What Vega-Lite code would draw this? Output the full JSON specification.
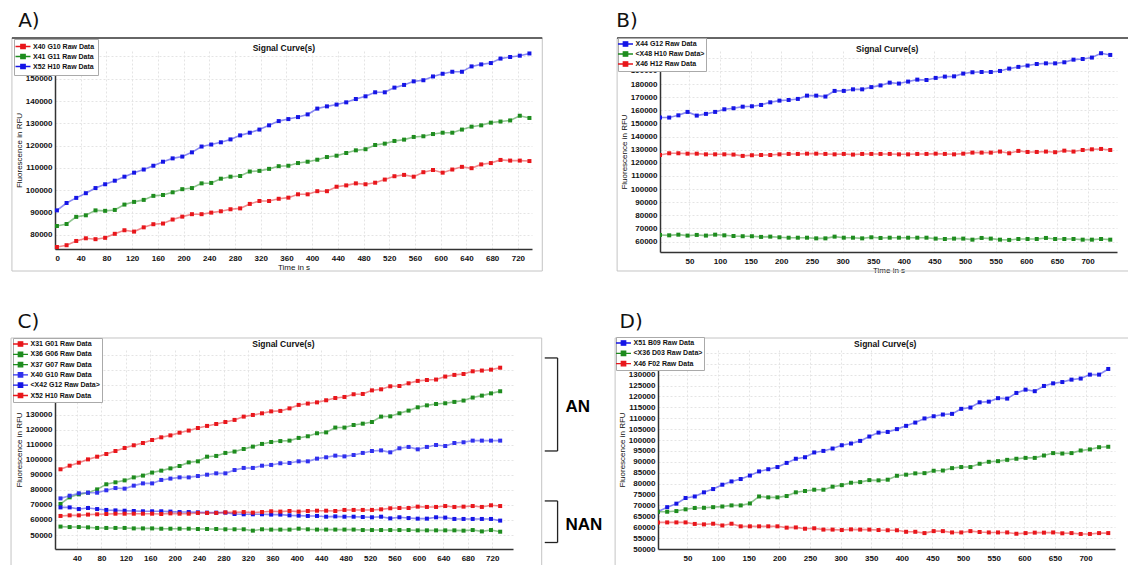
{
"$schema": "https://vega.github.io/schema/vega-lite/v6.json",
"background": "white",
"padding": {"left": 10, "top": 11, "right": 0, "bottom": 0},
"config": {
 "font": "Liberation Sans",
 "view": {"stroke": null},
 "axis": {"labelFont": "Liberation Sans", "labelFontSize": 8, "labelFontWeight": "bold", "labelColor": "#111", "labelOverlap": false, "titleFont": "Liberation Sans", "titleFontSize": 8, "titleFontWeight": "normal", "titleColor": "#111", "gridColor": "#e4e4e4", "gridDash": [2, 2], "domainColor": "#333", "domainWidth": 1.5, "ticks": false, "labelPadding": 3},
 "axisY": {"titlePadding": 2},
 "axisX": {"titlePadding": 1, "labelPadding": 5},
 "legend": {"orient": "none", "title": null, "labelFont": "Liberation Sans", "labelFontSize": 7, "labelFontWeight": "bold", "labelColor": "#111", "padding": 3, "rowPadding": -2.2, "labelOffset": 5.5, "symbolOffset": 1.5, "strokeColor": "#aaa", "fillColor": "white", "symbolType": "M-2.14,0H2.14M-0.63,-0.63H0.63V0.63H-0.63Z", "symbolSize": 49, "symbolStrokeWidth": 1.3, "symbolOpacity": 1}
},
"resolve": {"scale": {"color": "independent", "x": "independent", "y": "independent"}, "legend": {"color": "independent"}, "axis": {"x": "independent", "y": "independent"}},
"datasets": {
 "A": [
{"s":"X40 G10","t":3,"v":74600},{"s":"X40 G10","t":18,"v":75400},{"s":"X40 G10","t":33,"v":77300},{"s":"X40 G10","t":48,"v":78500},{"s":"X40 G10","t":63,"v":78100},{"s":"X40 G10","t":78,"v":78700},{"s":"X40 G10","t":93,"v":80500},{"s":"X40 G10","t":108,"v":82100},{"s":"X40 G10","t":123,"v":81500},{"s":"X40 G10","t":138,"v":83400},
{"s":"X40 G10","t":153,"v":84800},{"s":"X40 G10","t":168,"v":85100},{"s":"X40 G10","t":183,"v":86900},{"s":"X40 G10","t":198,"v":88200},{"s":"X40 G10","t":213,"v":89300},{"s":"X40 G10","t":228,"v":89300},{"s":"X40 G10","t":243,"v":90000},{"s":"X40 G10","t":258,"v":90600},{"s":"X40 G10","t":273,"v":91500},{"s":"X40 G10","t":288,"v":91900},
{"s":"X40 G10","t":303,"v":93900},{"s":"X40 G10","t":318,"v":95200},{"s":"X40 G10","t":333,"v":95200},{"s":"X40 G10","t":348,"v":96200},{"s":"X40 G10","t":363,"v":96700},{"s":"X40 G10","t":378,"v":98200},{"s":"X40 G10","t":393,"v":98200},{"s":"X40 G10","t":408,"v":99600},{"s":"X40 G10","t":423,"v":99600},{"s":"X40 G10","t":438,"v":101600},
{"s":"X40 G10","t":453,"v":102200},{"s":"X40 G10","t":468,"v":103100},{"s":"X40 G10","t":483,"v":102700},{"s":"X40 G10","t":498,"v":103400},{"s":"X40 G10","t":513,"v":104800},{"s":"X40 G10","t":528,"v":106300},{"s":"X40 G10","t":543,"v":106900},{"s":"X40 G10","t":558,"v":106100},{"s":"X40 G10","t":573,"v":108100},{"s":"X40 G10","t":588,"v":109100},
{"s":"X40 G10","t":603,"v":107900},{"s":"X40 G10","t":618,"v":109300},{"s":"X40 G10","t":633,"v":110500},{"s":"X40 G10","t":648,"v":109900},{"s":"X40 G10","t":663,"v":111600},{"s":"X40 G10","t":678,"v":112200},{"s":"X40 G10","t":693,"v":113600},{"s":"X40 G10","t":708,"v":113300},{"s":"X40 G10","t":723,"v":113300},{"s":"X40 G10","t":738,"v":113100},
{"s":"X41 G11","t":3,"v":84000},{"s":"X41 G11","t":18,"v":84900},{"s":"X41 G11","t":33,"v":88100},{"s":"X41 G11","t":48,"v":88800},{"s":"X41 G11","t":63,"v":91000},{"s":"X41 G11","t":78,"v":90800},{"s":"X41 G11","t":93,"v":91200},{"s":"X41 G11","t":108,"v":93600},{"s":"X41 G11","t":123,"v":94800},{"s":"X41 G11","t":138,"v":95700},
{"s":"X41 G11","t":153,"v":97500},{"s":"X41 G11","t":168,"v":97900},{"s":"X41 G11","t":183,"v":99100},{"s":"X41 G11","t":198,"v":100500},{"s":"X41 G11","t":213,"v":101000},{"s":"X41 G11","t":228,"v":103100},{"s":"X41 G11","t":243,"v":103300},{"s":"X41 G11","t":258,"v":105200},{"s":"X41 G11","t":273,"v":106100},{"s":"X41 G11","t":288,"v":106400},
{"s":"X41 G11","t":303,"v":108400},{"s":"X41 G11","t":318,"v":108700},{"s":"X41 G11","t":333,"v":109600},{"s":"X41 G11","t":348,"v":110800},{"s":"X41 G11","t":363,"v":111000},{"s":"X41 G11","t":378,"v":112200},{"s":"X41 G11","t":393,"v":112800},{"s":"X41 G11","t":408,"v":113700},{"s":"X41 G11","t":423,"v":114900},{"s":"X41 G11","t":438,"v":115500},
{"s":"X41 G11","t":453,"v":116700},{"s":"X41 G11","t":468,"v":117900},{"s":"X41 G11","t":483,"v":118400},{"s":"X41 G11","t":498,"v":120300},{"s":"X41 G11","t":513,"v":120900},{"s":"X41 G11","t":528,"v":122100},{"s":"X41 G11","t":543,"v":122700},{"s":"X41 G11","t":558,"v":123900},{"s":"X41 G11","t":573,"v":124200},{"s":"X41 G11","t":588,"v":125200},
{"s":"X41 G11","t":603,"v":125800},{"s":"X41 G11","t":618,"v":125800},{"s":"X41 G11","t":633,"v":127200},{"s":"X41 G11","t":648,"v":128500},{"s":"X41 G11","t":663,"v":129100},{"s":"X41 G11","t":678,"v":130300},{"s":"X41 G11","t":693,"v":130800},{"s":"X41 G11","t":708,"v":131300},{"s":"X41 G11","t":723,"v":133400},{"s":"X41 G11","t":738,"v":132400},
{"s":"X52 H10","t":3,"v":91000},{"s":"X52 H10","t":18,"v":94300},{"s":"X52 H10","t":33,"v":96600},{"s":"X52 H10","t":48,"v":98700},{"s":"X52 H10","t":63,"v":101000},{"s":"X52 H10","t":78,"v":102700},{"s":"X52 H10","t":93,"v":104300},{"s":"X52 H10","t":108,"v":106100},{"s":"X52 H10","t":123,"v":107900},{"s":"X52 H10","t":138,"v":109300},
{"s":"X52 H10","t":153,"v":111000},{"s":"X52 H10","t":168,"v":112800},{"s":"X52 H10","t":183,"v":114300},{"s":"X52 H10","t":198,"v":115100},{"s":"X52 H10","t":213,"v":117000},{"s":"X52 H10","t":228,"v":119600},{"s":"X52 H10","t":243,"v":120500},{"s":"X52 H10","t":258,"v":121500},{"s":"X52 H10","t":273,"v":122800},{"s":"X52 H10","t":288,"v":124600},
{"s":"X52 H10","t":303,"v":125800},{"s":"X52 H10","t":318,"v":127200},{"s":"X52 H10","t":333,"v":129100},{"s":"X52 H10","t":348,"v":131000},{"s":"X52 H10","t":363,"v":131900},{"s":"X52 H10","t":378,"v":132800},{"s":"X52 H10","t":393,"v":134000},{"s":"X52 H10","t":408,"v":136600},{"s":"X52 H10","t":423,"v":137600},{"s":"X52 H10","t":438,"v":138400},
{"s":"X52 H10","t":453,"v":139400},{"s":"X52 H10","t":468,"v":140900},{"s":"X52 H10","t":483,"v":142100},{"s":"X52 H10","t":498,"v":143900},{"s":"X52 H10","t":513,"v":143900},{"s":"X52 H10","t":528,"v":146000},{"s":"X52 H10","t":543,"v":147200},{"s":"X52 H10","t":558,"v":148800},{"s":"X52 H10","t":573,"v":149300},{"s":"X52 H10","t":588,"v":151000},
{"s":"X52 H10","t":603,"v":152200},{"s":"X52 H10","t":618,"v":153100},{"s":"X52 H10","t":633,"v":153100},{"s":"X52 H10","t":648,"v":155500},{"s":"X52 H10","t":663,"v":156400},{"s":"X52 H10","t":678,"v":157000},{"s":"X52 H10","t":693,"v":159000},{"s":"X52 H10","t":708,"v":159700},{"s":"X52 H10","t":723,"v":160300},{"s":"X52 H10","t":738,"v":161300}
 ],
 "B": [
{"s":"X44 G12","t":2,"v":154500},{"s":"X44 G12","t":17,"v":154500},{"s":"X44 G12","t":32,"v":156200},{"s":"X44 G12","t":47,"v":158800},{"s":"X44 G12","t":62,"v":156000},{"s":"X44 G12","t":77,"v":157300},{"s":"X44 G12","t":92,"v":158800},{"s":"X44 G12","t":107,"v":160800},{"s":"X44 G12","t":122,"v":161600},{"s":"X44 G12","t":137,"v":162800},
{"s":"X44 G12","t":152,"v":163100},{"s":"X44 G12","t":167,"v":164100},{"s":"X44 G12","t":182,"v":166100},{"s":"X44 G12","t":197,"v":167400},{"s":"X44 G12","t":212,"v":167900},{"s":"X44 G12","t":227,"v":168700},{"s":"X44 G12","t":242,"v":171200},{"s":"X44 G12","t":257,"v":171200},{"s":"X44 G12","t":272,"v":170500},{"s":"X44 G12","t":287,"v":174800},
{"s":"X44 G12","t":302,"v":174800},{"s":"X44 G12","t":317,"v":176000},{"s":"X44 G12","t":332,"v":176000},{"s":"X44 G12","t":347,"v":177700},{"s":"X44 G12","t":362,"v":179000},{"s":"X44 G12","t":377,"v":181100},{"s":"X44 G12","t":392,"v":180400},{"s":"X44 G12","t":407,"v":181900},{"s":"X44 G12","t":422,"v":183400},{"s":"X44 G12","t":437,"v":183100},
{"s":"X44 G12","t":452,"v":184700},{"s":"X44 G12","t":467,"v":185700},{"s":"X44 G12","t":482,"v":185900},{"s":"X44 G12","t":497,"v":188000},{"s":"X44 G12","t":512,"v":189000},{"s":"X44 G12","t":527,"v":189200},{"s":"X44 G12","t":542,"v":189200},{"s":"X44 G12","t":557,"v":190000},{"s":"X44 G12","t":572,"v":191800},{"s":"X44 G12","t":587,"v":193100},
{"s":"X44 G12","t":602,"v":194100},{"s":"X44 G12","t":617,"v":195300},{"s":"X44 G12","t":632,"v":195800},{"s":"X44 G12","t":647,"v":195800},{"s":"X44 G12","t":662,"v":196600},{"s":"X44 G12","t":677,"v":198600},{"s":"X44 G12","t":692,"v":199100},{"s":"X44 G12","t":707,"v":200200},{"s":"X44 G12","t":722,"v":203500},{"s":"X44 G12","t":737,"v":202200},
{"s":"<X48 H10","t":2,"v":65100},{"s":"<X48 H10","t":17,"v":64800},{"s":"<X48 H10","t":32,"v":65300},{"s":"<X48 H10","t":47,"v":64600},{"s":"<X48 H10","t":62,"v":65100},{"s":"<X48 H10","t":77,"v":64600},{"s":"<X48 H10","t":92,"v":65300},{"s":"<X48 H10","t":107,"v":64800},{"s":"<X48 H10","t":122,"v":64300},{"s":"<X48 H10","t":137,"v":64100},
{"s":"<X48 H10","t":152,"v":64100},{"s":"<X48 H10","t":167,"v":63600},{"s":"<X48 H10","t":182,"v":63800},{"s":"<X48 H10","t":197,"v":63300},{"s":"<X48 H10","t":212,"v":63000},{"s":"<X48 H10","t":227,"v":63000},{"s":"<X48 H10","t":242,"v":63000},{"s":"<X48 H10","t":257,"v":62500},{"s":"<X48 H10","t":272,"v":62500},{"s":"<X48 H10","t":287,"v":63800},
{"s":"<X48 H10","t":302,"v":63000},{"s":"<X48 H10","t":317,"v":63000},{"s":"<X48 H10","t":332,"v":62500},{"s":"<X48 H10","t":347,"v":63300},{"s":"<X48 H10","t":362,"v":62800},{"s":"<X48 H10","t":377,"v":63000},{"s":"<X48 H10","t":392,"v":63000},{"s":"<X48 H10","t":407,"v":63000},{"s":"<X48 H10","t":422,"v":63000},{"s":"<X48 H10","t":437,"v":63000},
{"s":"<X48 H10","t":452,"v":62300},{"s":"<X48 H10","t":467,"v":62000},{"s":"<X48 H10","t":482,"v":62300},{"s":"<X48 H10","t":497,"v":62300},{"s":"<X48 H10","t":512,"v":61500},{"s":"<X48 H10","t":527,"v":62800},{"s":"<X48 H10","t":542,"v":62300},{"s":"<X48 H10","t":557,"v":61500},{"s":"<X48 H10","t":572,"v":61300},{"s":"<X48 H10","t":587,"v":62000},
{"s":"<X48 H10","t":602,"v":62000},{"s":"<X48 H10","t":617,"v":62000},{"s":"<X48 H10","t":632,"v":62800},{"s":"<X48 H10","t":647,"v":62000},{"s":"<X48 H10","t":662,"v":62000},{"s":"<X48 H10","t":677,"v":62000},{"s":"<X48 H10","t":692,"v":61500},{"s":"<X48 H10","t":707,"v":61500},{"s":"<X48 H10","t":722,"v":62000},{"s":"<X48 H10","t":737,"v":61500},
{"s":"X46 H12","t":2,"v":126000},{"s":"X46 H12","t":17,"v":127300},{"s":"X46 H12","t":32,"v":127300},{"s":"X46 H12","t":47,"v":127000},{"s":"X46 H12","t":62,"v":127000},{"s":"X46 H12","t":77,"v":126500},{"s":"X46 H12","t":92,"v":126500},{"s":"X46 H12","t":107,"v":126500},{"s":"X46 H12","t":122,"v":126300},{"s":"X46 H12","t":137,"v":125300},
{"s":"X46 H12","t":152,"v":125800},{"s":"X46 H12","t":167,"v":126000},{"s":"X46 H12","t":182,"v":126000},{"s":"X46 H12","t":197,"v":126500},{"s":"X46 H12","t":212,"v":126800},{"s":"X46 H12","t":227,"v":126800},{"s":"X46 H12","t":242,"v":127000},{"s":"X46 H12","t":257,"v":127000},{"s":"X46 H12","t":272,"v":126800},{"s":"X46 H12","t":287,"v":126500},
{"s":"X46 H12","t":302,"v":126800},{"s":"X46 H12","t":317,"v":126300},{"s":"X46 H12","t":332,"v":126800},{"s":"X46 H12","t":347,"v":126800},{"s":"X46 H12","t":362,"v":126800},{"s":"X46 H12","t":377,"v":126800},{"s":"X46 H12","t":392,"v":126500},{"s":"X46 H12","t":407,"v":126500},{"s":"X46 H12","t":422,"v":126800},{"s":"X46 H12","t":437,"v":126800},
{"s":"X46 H12","t":452,"v":127000},{"s":"X46 H12","t":467,"v":126800},{"s":"X46 H12","t":482,"v":126500},{"s":"X46 H12","t":497,"v":127000},{"s":"X46 H12","t":512,"v":127800},{"s":"X46 H12","t":527,"v":127800},{"s":"X46 H12","t":542,"v":127800},{"s":"X46 H12","t":557,"v":128600},{"s":"X46 H12","t":572,"v":127300},{"s":"X46 H12","t":587,"v":129100},
{"s":"X46 H12","t":602,"v":128300},{"s":"X46 H12","t":617,"v":128300},{"s":"X46 H12","t":632,"v":128600},{"s":"X46 H12","t":647,"v":128100},{"s":"X46 H12","t":662,"v":129300},{"s":"X46 H12","t":677,"v":128600},{"s":"X46 H12","t":692,"v":129800},{"s":"X46 H12","t":707,"v":130300},{"s":"X46 H12","t":722,"v":130600},{"s":"X46 H12","t":737,"v":129800}
 ],
 "C": [
{"s":"X52 H10","t":13,"v":93800},{"s":"X52 H10","t":28,"v":96200},{"s":"X52 H10","t":43,"v":98200},{"s":"X52 H10","t":58,"v":100400},{"s":"X52 H10","t":73,"v":102200},{"s":"X52 H10","t":88,"v":104000},{"s":"X52 H10","t":103,"v":106000},{"s":"X52 H10","t":118,"v":108000},{"s":"X52 H10","t":133,"v":109800},{"s":"X52 H10","t":148,"v":111300},
{"s":"X52 H10","t":163,"v":113300},{"s":"X52 H10","t":178,"v":115100},{"s":"X52 H10","t":193,"v":116400},{"s":"X52 H10","t":208,"v":118200},{"s":"X52 H10","t":223,"v":119600},{"s":"X52 H10","t":238,"v":121300},{"s":"X52 H10","t":253,"v":122700},{"s":"X52 H10","t":268,"v":124000},{"s":"X52 H10","t":283,"v":125300},{"s":"X52 H10","t":298,"v":126700},
{"s":"X52 H10","t":313,"v":128900},{"s":"X52 H10","t":328,"v":130000},{"s":"X52 H10","t":343,"v":131100},{"s":"X52 H10","t":358,"v":132400},{"s":"X52 H10","t":373,"v":132700},{"s":"X52 H10","t":388,"v":134400},{"s":"X52 H10","t":403,"v":136700},{"s":"X52 H10","t":418,"v":137600},{"s":"X52 H10","t":433,"v":138400},{"s":"X52 H10","t":448,"v":139800},
{"s":"X52 H10","t":463,"v":141300},{"s":"X52 H10","t":478,"v":142000},{"s":"X52 H10","t":493,"v":143800},{"s":"X52 H10","t":508,"v":144000},{"s":"X52 H10","t":523,"v":146400},{"s":"X52 H10","t":538,"v":147100},{"s":"X52 H10","t":553,"v":149100},{"s":"X52 H10","t":568,"v":149300},{"s":"X52 H10","t":583,"v":151100},{"s":"X52 H10","t":598,"v":152700},
{"s":"X52 H10","t":613,"v":153300},{"s":"X52 H10","t":628,"v":153600},{"s":"X52 H10","t":643,"v":155600},{"s":"X52 H10","t":658,"v":156700},{"s":"X52 H10","t":673,"v":157300},{"s":"X52 H10","t":688,"v":159100},{"s":"X52 H10","t":703,"v":159600},{"s":"X52 H10","t":718,"v":160200},{"s":"X52 H10","t":733,"v":161500},
{"s":"X36 G06","t":13,"v":70700},{"s":"X36 G06","t":28,"v":75100},{"s":"X36 G06","t":43,"v":77100},{"s":"X36 G06","t":58,"v":78200},{"s":"X36 G06","t":73,"v":80400},{"s":"X36 G06","t":88,"v":83800},{"s":"X36 G06","t":103,"v":85100},{"s":"X36 G06","t":118,"v":86400},{"s":"X36 G06","t":133,"v":88400},{"s":"X36 G06","t":148,"v":89600},
{"s":"X36 G06","t":163,"v":91600},{"s":"X36 G06","t":178,"v":92900},{"s":"X36 G06","t":193,"v":94400},{"s":"X36 G06","t":208,"v":96000},{"s":"X36 G06","t":223,"v":98400},{"s":"X36 G06","t":238,"v":99100},{"s":"X36 G06","t":253,"v":102200},{"s":"X36 G06","t":268,"v":102700},{"s":"X36 G06","t":283,"v":104700},{"s":"X36 G06","t":298,"v":105600},
{"s":"X36 G06","t":313,"v":107300},{"s":"X36 G06","t":328,"v":108900},{"s":"X36 G06","t":343,"v":110700},{"s":"X36 G06","t":358,"v":112000},{"s":"X36 G06","t":373,"v":112600},{"s":"X36 G06","t":388,"v":112900},{"s":"X36 G06","t":403,"v":114700},{"s":"X36 G06","t":418,"v":115800},{"s":"X36 G06","t":433,"v":117800},{"s":"X36 G06","t":448,"v":118400},
{"s":"X36 G06","t":463,"v":121600},{"s":"X36 G06","t":478,"v":121600},{"s":"X36 G06","t":493,"v":123300},{"s":"X36 G06","t":508,"v":124200},{"s":"X36 G06","t":523,"v":125300},{"s":"X36 G06","t":538,"v":128900},{"s":"X36 G06","t":553,"v":129100},{"s":"X36 G06","t":568,"v":131100},{"s":"X36 G06","t":583,"v":132900},{"s":"X36 G06","t":598,"v":135100},
{"s":"X36 G06","t":613,"v":136400},{"s":"X36 G06","t":628,"v":137300},{"s":"X36 G06","t":643,"v":137800},{"s":"X36 G06","t":658,"v":138700},{"s":"X36 G06","t":673,"v":139600},{"s":"X36 G06","t":688,"v":141600},{"s":"X36 G06","t":703,"v":142900},{"s":"X36 G06","t":718,"v":144400},{"s":"X36 G06","t":733,"v":145800},
{"s":"X40 G10","t":13,"v":74400},{"s":"X40 G10","t":28,"v":76200},{"s":"X40 G10","t":43,"v":77800},{"s":"X40 G10","t":58,"v":78200},{"s":"X40 G10","t":73,"v":78200},{"s":"X40 G10","t":88,"v":79800},{"s":"X40 G10","t":103,"v":81300},{"s":"X40 G10","t":118,"v":80900},{"s":"X40 G10","t":133,"v":82900},{"s":"X40 G10","t":148,"v":84400},
{"s":"X40 G10","t":163,"v":84400},{"s":"X40 G10","t":178,"v":86700},{"s":"X40 G10","t":193,"v":87600},{"s":"X40 G10","t":208,"v":88400},{"s":"X40 G10","t":223,"v":88400},{"s":"X40 G10","t":238,"v":89300},{"s":"X40 G10","t":253,"v":90200},{"s":"X40 G10","t":268,"v":91100},{"s":"X40 G10","t":283,"v":91100},{"s":"X40 G10","t":298,"v":93300},
{"s":"X40 G10","t":313,"v":94700},{"s":"X40 G10","t":328,"v":94700},{"s":"X40 G10","t":343,"v":96200},{"s":"X40 G10","t":358,"v":96700},{"s":"X40 G10","t":373,"v":97800},{"s":"X40 G10","t":388,"v":98000},{"s":"X40 G10","t":403,"v":99100},{"s":"X40 G10","t":418,"v":99100},{"s":"X40 G10","t":433,"v":100900},{"s":"X40 G10","t":448,"v":101800},
{"s":"X40 G10","t":463,"v":102900},{"s":"X40 G10","t":478,"v":102400},{"s":"X40 G10","t":493,"v":103300},{"s":"X40 G10","t":508,"v":104700},{"s":"X40 G10","t":523,"v":106000},{"s":"X40 G10","t":538,"v":106400},{"s":"X40 G10","t":553,"v":105100},{"s":"X40 G10","t":568,"v":107800},{"s":"X40 G10","t":583,"v":108700},{"s":"X40 G10","t":598,"v":107100},
{"s":"X40 G10","t":613,"v":108700},{"s":"X40 G10","t":628,"v":110000},{"s":"X40 G10","t":643,"v":109300},{"s":"X40 G10","t":658,"v":111300},{"s":"X40 G10","t":673,"v":111800},{"s":"X40 G10","t":688,"v":112900},{"s":"X40 G10","t":703,"v":112900},{"s":"X40 G10","t":718,"v":112900},{"s":"X40 G10","t":733,"v":112900},
{"s":"<X42 G12","t":13,"v":68400},{"s":"<X42 G12","t":28,"v":68400},{"s":"<X42 G12","t":43,"v":67300},{"s":"<X42 G12","t":58,"v":68000},{"s":"<X42 G12","t":73,"v":67300},{"s":"<X42 G12","t":88,"v":66700},{"s":"<X42 G12","t":103,"v":66400},{"s":"<X42 G12","t":118,"v":66200},{"s":"<X42 G12","t":133,"v":66000},{"s":"<X42 G12","t":148,"v":65800},
{"s":"<X42 G12","t":163,"v":65800},{"s":"<X42 G12","t":178,"v":65800},{"s":"<X42 G12","t":193,"v":65600},{"s":"<X42 G12","t":208,"v":65300},{"s":"<X42 G12","t":223,"v":65300},{"s":"<X42 G12","t":238,"v":65100},{"s":"<X42 G12","t":253,"v":64900},{"s":"<X42 G12","t":268,"v":64900},{"s":"<X42 G12","t":283,"v":64900},{"s":"<X42 G12","t":298,"v":64000},
{"s":"<X42 G12","t":313,"v":63800},{"s":"<X42 G12","t":328,"v":63800},{"s":"<X42 G12","t":343,"v":63800},{"s":"<X42 G12","t":358,"v":63600},{"s":"<X42 G12","t":373,"v":63600},{"s":"<X42 G12","t":388,"v":63100},{"s":"<X42 G12","t":403,"v":62900},{"s":"<X42 G12","t":418,"v":62700},{"s":"<X42 G12","t":433,"v":62700},{"s":"<X42 G12","t":448,"v":62200},
{"s":"<X42 G12","t":463,"v":62400},{"s":"<X42 G12","t":478,"v":62200},{"s":"<X42 G12","t":493,"v":62200},{"s":"<X42 G12","t":508,"v":62000},{"s":"<X42 G12","t":523,"v":61800},{"s":"<X42 G12","t":538,"v":62200},{"s":"<X42 G12","t":553,"v":61100},{"s":"<X42 G12","t":568,"v":61800},{"s":"<X42 G12","t":583,"v":61300},{"s":"<X42 G12","t":598,"v":60900},
{"s":"<X42 G12","t":613,"v":60900},{"s":"<X42 G12","t":628,"v":61800},{"s":"<X42 G12","t":643,"v":61600},{"s":"<X42 G12","t":658,"v":60700},{"s":"<X42 G12","t":673,"v":60700},{"s":"<X42 G12","t":688,"v":60700},{"s":"<X42 G12","t":703,"v":60700},{"s":"<X42 G12","t":718,"v":60700},{"s":"<X42 G12","t":733,"v":59600},
{"s":"X31 G01","t":13,"v":62700},{"s":"X31 G01","t":28,"v":63100},{"s":"X31 G01","t":43,"v":63100},{"s":"X31 G01","t":58,"v":63600},{"s":"X31 G01","t":73,"v":63800},{"s":"X31 G01","t":88,"v":64000},{"s":"X31 G01","t":103,"v":64200},{"s":"X31 G01","t":118,"v":64200},{"s":"X31 G01","t":133,"v":64200},{"s":"X31 G01","t":148,"v":64200},
{"s":"X31 G01","t":163,"v":64200},{"s":"X31 G01","t":178,"v":64000},{"s":"X31 G01","t":193,"v":64400},{"s":"X31 G01","t":208,"v":64200},{"s":"X31 G01","t":223,"v":64200},{"s":"X31 G01","t":238,"v":64700},{"s":"X31 G01","t":253,"v":64700},{"s":"X31 G01","t":268,"v":64700},{"s":"X31 G01","t":283,"v":65100},{"s":"X31 G01","t":298,"v":65100},
{"s":"X31 G01","t":313,"v":65300},{"s":"X31 G01","t":328,"v":64900},{"s":"X31 G01","t":343,"v":65300},{"s":"X31 G01","t":358,"v":65800},{"s":"X31 G01","t":373,"v":65600},{"s":"X31 G01","t":388,"v":66000},{"s":"X31 G01","t":403,"v":65600},{"s":"X31 G01","t":418,"v":66000},{"s":"X31 G01","t":433,"v":66200},{"s":"X31 G01","t":448,"v":66200},
{"s":"X31 G01","t":463,"v":66000},{"s":"X31 G01","t":478,"v":66700},{"s":"X31 G01","t":493,"v":66700},{"s":"X31 G01","t":508,"v":66700},{"s":"X31 G01","t":523,"v":66700},{"s":"X31 G01","t":538,"v":67100},{"s":"X31 G01","t":553,"v":67800},{"s":"X31 G01","t":568,"v":68000},{"s":"X31 G01","t":583,"v":68000},{"s":"X31 G01","t":598,"v":68900},
{"s":"X31 G01","t":613,"v":68700},{"s":"X31 G01","t":628,"v":68700},{"s":"X31 G01","t":643,"v":69300},{"s":"X31 G01","t":658,"v":68700},{"s":"X31 G01","t":673,"v":68900},{"s":"X31 G01","t":688,"v":69300},{"s":"X31 G01","t":703,"v":68700},{"s":"X31 G01","t":718,"v":69800},{"s":"X31 G01","t":733,"v":69300},
{"s":"X37 G07","t":13,"v":55600},{"s":"X37 G07","t":28,"v":55300},{"s":"X37 G07","t":43,"v":55300},{"s":"X37 G07","t":58,"v":55100},{"s":"X37 G07","t":73,"v":54700},{"s":"X37 G07","t":88,"v":54700},{"s":"X37 G07","t":103,"v":54700},{"s":"X37 G07","t":118,"v":54700},{"s":"X37 G07","t":133,"v":54400},{"s":"X37 G07","t":148,"v":54400},
{"s":"X37 G07","t":163,"v":54400},{"s":"X37 G07","t":178,"v":54200},{"s":"X37 G07","t":193,"v":54200},{"s":"X37 G07","t":208,"v":54200},{"s":"X37 G07","t":223,"v":54200},{"s":"X37 G07","t":238,"v":54000},{"s":"X37 G07","t":253,"v":54000},{"s":"X37 G07","t":268,"v":54000},{"s":"X37 G07","t":283,"v":53800},{"s":"X37 G07","t":298,"v":53800},
{"s":"X37 G07","t":313,"v":53800},{"s":"X37 G07","t":328,"v":52900},{"s":"X37 G07","t":343,"v":53800},{"s":"X37 G07","t":358,"v":53600},{"s":"X37 G07","t":373,"v":53600},{"s":"X37 G07","t":388,"v":53600},{"s":"X37 G07","t":403,"v":54200},{"s":"X37 G07","t":418,"v":53800},{"s":"X37 G07","t":433,"v":53600},{"s":"X37 G07","t":448,"v":53600},
{"s":"X37 G07","t":463,"v":53600},{"s":"X37 G07","t":478,"v":53600},{"s":"X37 G07","t":493,"v":53600},{"s":"X37 G07","t":508,"v":53300},{"s":"X37 G07","t":523,"v":53300},{"s":"X37 G07","t":538,"v":53300},{"s":"X37 G07","t":553,"v":53300},{"s":"X37 G07","t":568,"v":53300},{"s":"X37 G07","t":583,"v":53300},{"s":"X37 G07","t":598,"v":53100},
{"s":"X37 G07","t":613,"v":53100},{"s":"X37 G07","t":628,"v":53100},{"s":"X37 G07","t":643,"v":53100},{"s":"X37 G07","t":658,"v":53100},{"s":"X37 G07","t":673,"v":52900},{"s":"X37 G07","t":688,"v":53300},{"s":"X37 G07","t":703,"v":52400},{"s":"X37 G07","t":718,"v":53300},{"s":"X37 G07","t":733,"v":52200}
 ],
 "D": [
{"s":"X51 B09","t":2,"v":67100},{"s":"X51 B09","t":17,"v":69200},{"s":"X51 B09","t":32,"v":70800},{"s":"X51 B09","t":47,"v":73400},{"s":"X51 B09","t":62,"v":74100},{"s":"X51 B09","t":77,"v":76000},{"s":"X51 B09","t":92,"v":77500},{"s":"X51 B09","t":107,"v":79500},{"s":"X51 B09","t":122,"v":81000},{"s":"X51 B09","t":137,"v":82100},
{"s":"X51 B09","t":152,"v":83700},{"s":"X51 B09","t":167,"v":85600},{"s":"X51 B09","t":182,"v":86600},{"s":"X51 B09","t":197,"v":87600},{"s":"X51 B09","t":212,"v":89500},{"s":"X51 B09","t":227,"v":91400},{"s":"X51 B09","t":242,"v":92100},{"s":"X51 B09","t":257,"v":94300},{"s":"X51 B09","t":272,"v":95000},{"s":"X51 B09","t":287,"v":96100},
{"s":"X51 B09","t":302,"v":97600},{"s":"X51 B09","t":317,"v":98400},{"s":"X51 B09","t":332,"v":99600},{"s":"X51 B09","t":347,"v":101600},{"s":"X51 B09","t":362,"v":103400},{"s":"X51 B09","t":377,"v":103700},{"s":"X51 B09","t":392,"v":105000},{"s":"X51 B09","t":407,"v":106500},{"s":"X51 B09","t":422,"v":108000},{"s":"X51 B09","t":437,"v":109900},
{"s":"X51 B09","t":452,"v":110900},{"s":"X51 B09","t":467,"v":111700},{"s":"X51 B09","t":482,"v":112000},{"s":"X51 B09","t":497,"v":114300},{"s":"X51 B09","t":512,"v":114900},{"s":"X51 B09","t":527,"v":117300},{"s":"X51 B09","t":542,"v":117600},{"s":"X51 B09","t":557,"v":119200},{"s":"X51 B09","t":572,"v":119000},{"s":"X51 B09","t":587,"v":121600},
{"s":"X51 B09","t":602,"v":123100},{"s":"X51 B09","t":617,"v":122400},{"s":"X51 B09","t":632,"v":124800},{"s":"X51 B09","t":647,"v":126000},{"s":"X51 B09","t":662,"v":126600},{"s":"X51 B09","t":677,"v":127700},{"s":"X51 B09","t":692,"v":128200},{"s":"X51 B09","t":707,"v":130000},{"s":"X51 B09","t":722,"v":130000},{"s":"X51 B09","t":737,"v":132600},
{"s":"<X36 D03","t":2,"v":67100},{"s":"<X36 D03","t":17,"v":67100},{"s":"<X36 D03","t":32,"v":67400},{"s":"<X36 D03","t":47,"v":68200},{"s":"<X36 D03","t":62,"v":68800},{"s":"<X36 D03","t":77,"v":68900},{"s":"<X36 D03","t":92,"v":69200},{"s":"<X36 D03","t":107,"v":69500},{"s":"<X36 D03","t":122,"v":70000},{"s":"<X36 D03","t":137,"v":70000},
{"s":"<X36 D03","t":152,"v":70900},{"s":"<X36 D03","t":167,"v":74100},{"s":"<X36 D03","t":182,"v":73700},{"s":"<X36 D03","t":197,"v":73700},{"s":"<X36 D03","t":212,"v":74300},{"s":"<X36 D03","t":227,"v":76000},{"s":"<X36 D03","t":242,"v":76600},{"s":"<X36 D03","t":257,"v":77200},{"s":"<X36 D03","t":272,"v":77200},{"s":"<X36 D03","t":287,"v":78600},
{"s":"<X36 D03","t":302,"v":79300},{"s":"<X36 D03","t":317,"v":80400},{"s":"<X36 D03","t":332,"v":80700},{"s":"<X36 D03","t":347,"v":81600},{"s":"<X36 D03","t":362,"v":81500},{"s":"<X36 D03","t":377,"v":81800},{"s":"<X36 D03","t":392,"v":83600},{"s":"<X36 D03","t":407,"v":84100},{"s":"<X36 D03","t":422,"v":84700},{"s":"<X36 D03","t":437,"v":84800},
{"s":"<X36 D03","t":452,"v":85900},{"s":"<X36 D03","t":467,"v":86000},{"s":"<X36 D03","t":482,"v":87100},{"s":"<X36 D03","t":497,"v":87600},{"s":"<X36 D03","t":512,"v":87600},{"s":"<X36 D03","t":527,"v":89100},{"s":"<X36 D03","t":542,"v":90000},{"s":"<X36 D03","t":557,"v":90300},{"s":"<X36 D03","t":572,"v":90900},{"s":"<X36 D03","t":587,"v":91400},
{"s":"<X36 D03","t":602,"v":91800},{"s":"<X36 D03","t":617,"v":91800},{"s":"<X36 D03","t":632,"v":92900},{"s":"<X36 D03","t":647,"v":94000},{"s":"<X36 D03","t":662,"v":93800},{"s":"<X36 D03","t":677,"v":94000},{"s":"<X36 D03","t":692,"v":95200},{"s":"<X36 D03","t":707,"v":95700},{"s":"<X36 D03","t":722,"v":96700},{"s":"<X36 D03","t":737,"v":96900},
{"s":"X46 F02","t":2,"v":62200},{"s":"X46 F02","t":17,"v":62200},{"s":"X46 F02","t":32,"v":62200},{"s":"X46 F02","t":47,"v":62200},{"s":"X46 F02","t":62,"v":61500},{"s":"X46 F02","t":77,"v":61300},{"s":"X46 F02","t":92,"v":61600},{"s":"X46 F02","t":107,"v":60800},{"s":"X46 F02","t":122,"v":61600},{"s":"X46 F02","t":137,"v":60400},
{"s":"X46 F02","t":152,"v":60400},{"s":"X46 F02","t":167,"v":60400},{"s":"X46 F02","t":182,"v":60400},{"s":"X46 F02","t":197,"v":60400},{"s":"X46 F02","t":212,"v":59800},{"s":"X46 F02","t":227,"v":59900},{"s":"X46 F02","t":242,"v":59300},{"s":"X46 F02","t":257,"v":59500},{"s":"X46 F02","t":272,"v":58900},{"s":"X46 F02","t":287,"v":58900},
{"s":"X46 F02","t":302,"v":58700},{"s":"X46 F02","t":317,"v":59000},{"s":"X46 F02","t":332,"v":58900},{"s":"X46 F02","t":347,"v":58900},{"s":"X46 F02","t":362,"v":58700},{"s":"X46 F02","t":377,"v":58600},{"s":"X46 F02","t":392,"v":58600},{"s":"X46 F02","t":407,"v":57900},{"s":"X46 F02","t":422,"v":57900},{"s":"X46 F02","t":437,"v":57300},
{"s":"X46 F02","t":452,"v":58200},{"s":"X46 F02","t":467,"v":58200},{"s":"X46 F02","t":482,"v":57600},{"s":"X46 F02","t":497,"v":57600},{"s":"X46 F02","t":512,"v":58200},{"s":"X46 F02","t":527,"v":57800},{"s":"X46 F02","t":542,"v":57600},{"s":"X46 F02","t":557,"v":57600},{"s":"X46 F02","t":572,"v":57600},{"s":"X46 F02","t":587,"v":57000},
{"s":"X46 F02","t":602,"v":57300},{"s":"X46 F02","t":617,"v":57500},{"s":"X46 F02","t":632,"v":57500},{"s":"X46 F02","t":647,"v":57600},{"s":"X46 F02","t":662,"v":57200},{"s":"X46 F02","t":677,"v":57300},{"s":"X46 F02","t":692,"v":56900},{"s":"X46 F02","t":707,"v":56900},{"s":"X46 F02","t":722,"v":57300},{"s":"X46 F02","t":737,"v":57300}
 ],
 "brackets": [
  {"t":806,"t2":827,"v":168000,"v2":168000},{"t":806,"t2":827,"v":106000,"v2":106000},{"t":827,"t2":827,"v":168000,"v2":106000},
  {"t":806,"t2":827,"v":72700,"v2":72700},{"t":806,"t2":827,"v":45000,"v2":45000},{"t":827,"t2":827,"v":72700,"v2":45000}
 ],
 "labels": [{"t":860,"v":135000,"label":"AN"},{"t":870,"v":56700,"label":"NAN"}]
},
"spacing": 37,
"vconcat": [
 {"spacing": 72, "resolve": {"scale": {"color": "independent", "x": "independent", "y": "independent"}, "legend": {"color": "independent"}}, "hconcat": [
  {"title": {"text": "A)", "anchor": "start", "fontSize": 20, "fontWeight": "normal", "font": "DejaVu Sans", "color": "#111", "offset": 6, "dx": 7},
   "vconcat": [{
    "width": 477, "height": 198,
    "encoding": {
     "x": {"field": "t", "type": "quantitative", "scale": {"domain": [0, 742], "nice": false, "zero": false}, "axis": {"values": [0,40,80,120,160,200,240,280,320,360,400,440,480,520,560,600,640,680,720], "title": "Time in s"}},
     "y": {"field": "v", "type": "quantitative", "scale": {"domain": [73700, 162400], "nice": false, "zero": false}, "axis": {"values": [80000,90000,100000,110000,120000,130000,140000,150000,160000], "format": "d", "title": "Fluorescence in RFU"}}
    },
    "layer": [
     {"data": {"values": [{"t":-67,"t2":-67,"v":168200,"v2":63840},{"t":758,"t2":758,"v":168200,"v2":63840},{"t":-67,"t2":758,"v":63840,"v2":63840}]},
      "mark": {"type": "rule", "color": "#c4c4c4", "strokeWidth": 1}, "encoding": {"x2": {"field": "t2"}, "y2": {"field": "v2"}}},
     {"data": {"values": [{"t":-67,"t2":758,"v":168200,"v2":168200}]},
      "mark": {"type": "rule", "color": "#333", "strokeWidth": 1.5}, "encoding": {"x2": {"field": "t2"}, "y2": {"field": "v2"}}},
     {"data": {"values": [{"t":356,"v":163600,"label":"Signal Curve(s)"}]},
      "mark": {"type": "text", "fontSize": 8.5, "fontWeight": "bold", "font": "Liberation Sans", "color": "#111", "align": "center", "baseline": "middle"},
      "encoding": {"text": {"field": "label"}}},
     {"data": {"name": "A"},
      "encoding": {"color": {"field": "s", "type": "nominal", "scale": {"domain": ["X40 G10","X41 G11","X52 H10"], "range": ["#e8161b","#1e8c1e","#1515e6"]}, "legend": {"legendX": -41, "legendY": -12, "labelExpr": "indexof(datum.label, '<') == 0 ? datum.label + ' Raw Data>' : datum.label + ' Raw Data'"}}},
      "layer": [
       {"mark": {"type": "line", "strokeWidth": 1.6, "opacity": 0.5}},
       {"mark": {"type": "point", "shape": "square", "filled": true, "size": 16, "opacity": 1}}
      ]}
    ]
   }]},
  {"title": {"text": "B)", "anchor": "start", "fontSize": 20, "fontWeight": "normal", "font": "DejaVu Sans", "color": "#111", "offset": 6, "dx": 0},
   "vconcat": [{
    "width": 457, "height": 201,
    "encoding": {
     "x": {"field": "t", "type": "quantitative", "scale": {"domain": [2, 748], "nice": false, "zero": false}, "axis": {"values": [50,100,150,200,250,300,350,400,450,500,550,600,650,700], "title": "Time in s"}},
     "y": {"field": "v", "type": "quantitative", "scale": {"domain": [52100, 205200], "nice": false, "zero": false}, "axis": {"values": [60000,70000,80000,90000,100000,110000,120000,130000,140000,150000,160000,170000,180000,190000,200000], "format": "d", "title": "Fluorescence in RFU"}}
    },
    "layer": [
     {"data": {"values": [{"t":-68,"t2":-68,"v":215100,"v2":37630},{"t":772,"t2":772,"v":215100,"v2":37630},{"t":-68,"t2":772,"v":37630,"v2":37630}]},
      "mark": {"type": "rule", "color": "#c4c4c4", "strokeWidth": 1}, "encoding": {"x2": {"field": "t2"}, "y2": {"field": "v2"}}},
     {"data": {"values": [{"t":-68,"t2":772,"v":215100,"v2":215100}]},
      "mark": {"type": "rule", "color": "#333", "strokeWidth": 1.5}, "encoding": {"x2": {"field": "t2"}, "y2": {"field": "v2"}}},
     {"data": {"values": [{"t":373,"v":206500,"label":"Signal Curve(s)"}]},
      "mark": {"type": "text", "fontSize": 8.5, "fontWeight": "bold", "font": "Liberation Sans", "color": "#111", "align": "center", "baseline": "middle"},
      "encoding": {"text": {"field": "label"}}},
     {"data": {"name": "B"},
      "encoding": {"color": {"field": "s", "type": "nominal", "scale": {"domain": ["X44 G12","<X48 H10","X46 H12"], "range": ["#1515e6","#1e8c1e","#e8161b"]}, "legend": {"legendX": -42, "legendY": -13, "padding": 1.5, "labelExpr": "indexof(datum.label, '<') == 0 ? datum.label + ' Raw Data>' : datum.label + ' Raw Data'"}}},
      "layer": [
       {"mark": {"type": "line", "strokeWidth": 1.6, "opacity": 0.5, "clip": true}},
       {"mark": {"type": "point", "shape": "square", "filled": true, "size": 16, "opacity": 1, "clip": true}}
      ]}
    ]
   }]}
 ]},
 {"spacing": 11, "resolve": {"scale": {"color": "independent", "x": "independent", "y": "independent"}, "legend": {"color": "independent"}}, "hconcat": [
  {"title": {"text": "C)", "anchor": "start", "fontSize": 20, "fontWeight": "normal", "font": "DejaVu Sans", "color": "#111", "offset": 5, "dx": 7},
   "vconcat": [{
    "width": 458, "height": 199,
    "encoding": {
     "x": {"field": "t", "type": "quantitative", "scale": {"domain": [4, 754], "nice": false, "zero": false}, "axis": {"values": [40,80,120,160,200,240,280,320,360,400,440,480,520,560,600,640,680,720], "title": "Time in s", "labelOverlap": false}},
     "y": {"field": "v", "type": "quantitative", "scale": {"domain": [40670, 173300], "nice": false, "zero": false}, "axis": {"values": [50000,60000,70000,80000,90000,100000,110000,120000,130000,140000,150000,160000,170000], "format": "d", "title": "Fluorescence in RFU", "labelOverlap": false}}
    },
    "layer": [
     {"data": {"values": [{"t":-68,"t2":-68,"v":181300,"v2":30000},{"t":801,"t2":801,"v":181300,"v2":30000},{"t":-68,"t2":801,"v":181300,"v2":181300}]},
      "mark": {"type": "rule", "color": "#c4c4c4", "strokeWidth": 1}, "encoding": {"x2": {"field": "t2"}, "y2": {"field": "v2"}}},
     {"data": {"values": [{"t":378,"v":177300,"label":"Signal Curve(s)"}]},
      "mark": {"type": "text", "fontSize": 8.5, "fontWeight": "bold", "font": "Liberation Sans", "color": "#111", "align": "center", "baseline": "middle"},
      "encoding": {"text": {"field": "label"}}},
     {"data": {"name": "C"},
      "encoding": {
       "color": {"field": "s", "type": "nominal", "scale": {"domain": ["X31 G01","X36 G06","X37 G07","X40 G10","<X42 G12","X52 H10"], "range": ["#e8161b","#1e8c1e","#1e8c1e","#3030ee","#1515e6","#e8161b"]}, "legend": {"legendX": -42, "legendY": -12, "rowPadding": -0.7, "padding": 1.5, "labelExpr": "indexof(datum.label, '<') == 0 ? datum.label + ' Raw Data>' : datum.label + ' Raw Data'"}}
      },
      "layer": [
       {"mark": {"type": "line", "strokeWidth": 1.6, "opacity": 0.5}},
       {"mark": {"type": "point", "shape": "square", "filled": true, "size": 16, "opacity": 1}}
      ]},
     {"data": {"name": "brackets"},
      "mark": {"type": "rule", "color": "#222", "strokeWidth": 1.3},
      "encoding": {"x2": {"field": "t2"}, "y2": {"field": "v2"}}},
     {"data": {"name": "labels"},
      "mark": {"type": "text", "fontSize": 17, "fontWeight": "bold", "font": "Liberation Sans", "color": "#000", "align": "center", "baseline": "middle"},
      "encoding": {"text": {"field": "label"}}}
    ]
   }]},
  {"title": {"text": "D)", "anchor": "start", "fontSize": 20, "fontWeight": "normal", "font": "DejaVu Sans", "color": "#111", "offset": 5, "dx": 5},
   "vconcat": [{
    "width": 457, "height": 199,
    "encoding": {
     "x": {"field": "t", "type": "quantitative", "scale": {"domain": [2, 748], "nice": false, "zero": false}, "axis": {"values": [50,100,150,200,250,300,350,400,450,500,550,600,650,700], "title": "Time in s"}},
     "y": {"field": "v", "type": "quantitative", "scale": {"domain": [50000, 141300], "nice": false, "zero": false}, "axis": {"values": [50000,55000,60000,65000,70000,75000,80000,85000,90000,95000,100000,105000,110000,115000,120000,125000,130000,135000,140000], "format": "d", "title": "Fluorescence in RFU"}}
    },
    "layer": [
     {"data": {"values": [{"t":-68,"t2":-68,"v":146800,"v2":42660},{"t":772,"t2":772,"v":146800,"v2":42660},{"t":-68,"t2":772,"v":146800,"v2":146800}]},
      "mark": {"type": "rule", "color": "#c4c4c4", "strokeWidth": 1}, "encoding": {"x2": {"field": "t2"}, "y2": {"field": "v2"}}},
     {"data": {"values": [{"t":373,"v":144050,"label":"Signal Curve(s)"}]},
      "mark": {"type": "text", "fontSize": 8.5, "fontWeight": "bold", "font": "Liberation Sans", "color": "#111", "align": "center", "baseline": "middle"},
      "encoding": {"text": {"field": "label"}}},
     {"data": {"name": "D"},
      "encoding": {"color": {"field": "s", "type": "nominal", "scale": {"domain": ["X51 B09","<X36 D03","X46 F02"], "range": ["#1515e6","#1e8c1e","#e8161b"]}, "legend": {"legendX": -42, "legendY": -13, "rowPadding": -0.7, "padding": 1.5, "labelExpr": "indexof(datum.label, '<') == 0 ? datum.label + ' Raw Data>' : datum.label + ' Raw Data'"}}},
      "layer": [
       {"mark": {"type": "line", "strokeWidth": 1.6, "opacity": 0.5, "clip": true}},
       {"mark": {"type": "point", "shape": "square", "filled": true, "size": 16, "opacity": 1, "clip": true}}
      ]}
    ]
   }]}
 ]}
]
}
